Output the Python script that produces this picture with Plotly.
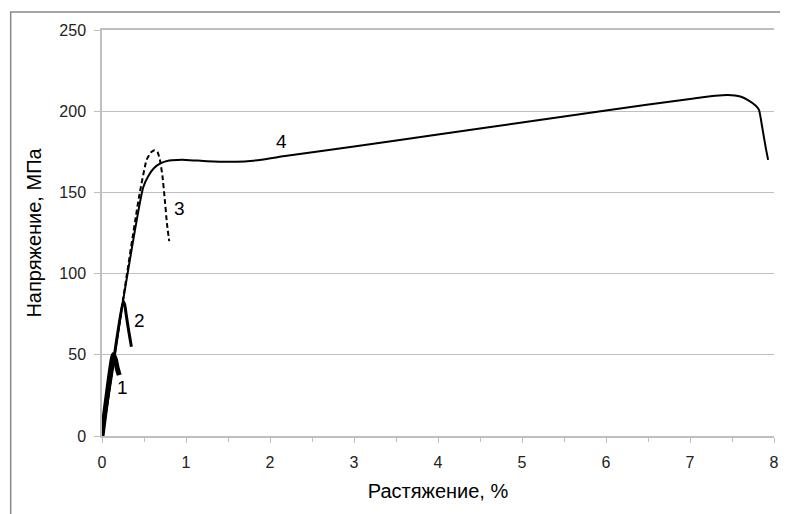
import plotly.graph_objects as go

# Curve 1 (thick)
x1 = [0, 0.134, 0.16, 0.18, 0.205]
y1 = [0, 50, 47, 42, 37.5]
# Curve 2
x2 = [0, 0.12, 0.25, 0.27, 0.29, 0.32, 0.35]
y2 = [0, 40, 83, 81, 74, 64, 55]
# Curve 3 (dashed)
x3 = [0, 0.25, 0.44, 0.53, 0.58, 0.626, 0.66, 0.69, 0.72, 0.745, 0.773, 0.80]
y3 = [0, 84, 147, 170, 174.5, 176, 175, 170, 160, 147, 131, 120]
# Curve 4
x4 = [0, 0.25, 0.49, 0.55, 0.62, 0.7, 0.8, 0.9, 1.0, 1.25, 1.5, 1.7, 1.9, 2.2, 3, 4, 5, 6, 7,
      7.3, 7.45, 7.6, 7.7, 7.78, 7.82, 7.86, 7.9, 7.93]
y4 = [0, 83, 153, 160, 165, 168, 169.7, 170, 170, 169.2, 168.8, 169.1, 170.1, 172.5, 178.3,
      185.7, 193, 200.5, 207.5, 209.5, 210, 209, 206.5, 203.5, 201, 190, 178, 170]

labels = ["1", "2", "3", "4"]
label_x = [0.24, 0.45, 0.92, 2.14]
label_y = [29.6, 71.4, 139.8, 181.6]

x_ticks = [0, 1, 2, 3, 4, 5, 6, 7, 8]
y_ticks = [0, 50, 100, 150, 200, 250]

fig = go.Figure()
fig.add_trace(go.Scatter(x=x4, y=y4, mode="lines", line=dict(color="black", width=2, shape="spline", smoothing=0.6)))
fig.add_trace(go.Scatter(x=x3, y=y3, mode="lines", line=dict(color="black", width=2, dash="5px,3px", shape="spline", smoothing=0.4)))
fig.add_trace(go.Scatter(x=x2, y=y2, mode="lines", line=dict(color="black", width=3, shape="spline", smoothing=0.4)))
fig.add_trace(go.Scatter(x=x1, y=y1, mode="lines", line=dict(color="black", width=5, shape="spline", smoothing=0.4)))

for t, lx, ly in zip(labels, label_x, label_y):
    fig.add_annotation(x=lx, y=ly, text=t, showarrow=False,
                       font=dict(family="Liberation Sans, Arial", size=19, color="black"))

fig.add_shape(type="rect", xref="paper", yref="paper", x0=-0.1359, y0=-0.4, x1=1.2, y1=1.0443,
              line=dict(color="#888888", width=1.5), fillcolor="rgba(0,0,0,0)", layer="below")

fig.update_layout(
    width=780, height=506,
    margin=dict(l=94, r=9, t=22, b=78),
    paper_bgcolor="white", plot_bgcolor="white",
    showlegend=False,
    font=dict(family="Liberation Sans, Arial", size=16, color="#222222"),
    xaxis=dict(range=[0, 8], tickvals=x_ticks, showgrid=False, zeroline=False,
               showline=True, linecolor="#bfbfbf", linewidth=1.5, mirror=True,
               ticks="outside", ticklen=5, tickcolor="#bfbfbf", ticklabelstandoff=6,
               minor=dict(dtick=0.5, ticks="outside", ticklen=4, tickcolor="#bfbfbf"),
               title=dict(text="Растяжение, %", font=dict(size=20, color="black"), standoff=14),
               tickfont=dict(size=16, color="#222222")),
    yaxis=dict(range=[0, 250], tickvals=y_ticks, showgrid=True, gridcolor="#bfbfbf", gridwidth=1,
               zeroline=False, showline=True, linecolor="#bfbfbf", linewidth=1.5,
               ticks="outside", ticklen=6, tickcolor="#bfbfbf", ticklabelstandoff=5,
               title=dict(text="Напряжение, МПа", font=dict(size=20, color="black"), standoff=12),
               tickfont=dict(size=16, color="#222222")),
)

fig.write_html("out.html")
